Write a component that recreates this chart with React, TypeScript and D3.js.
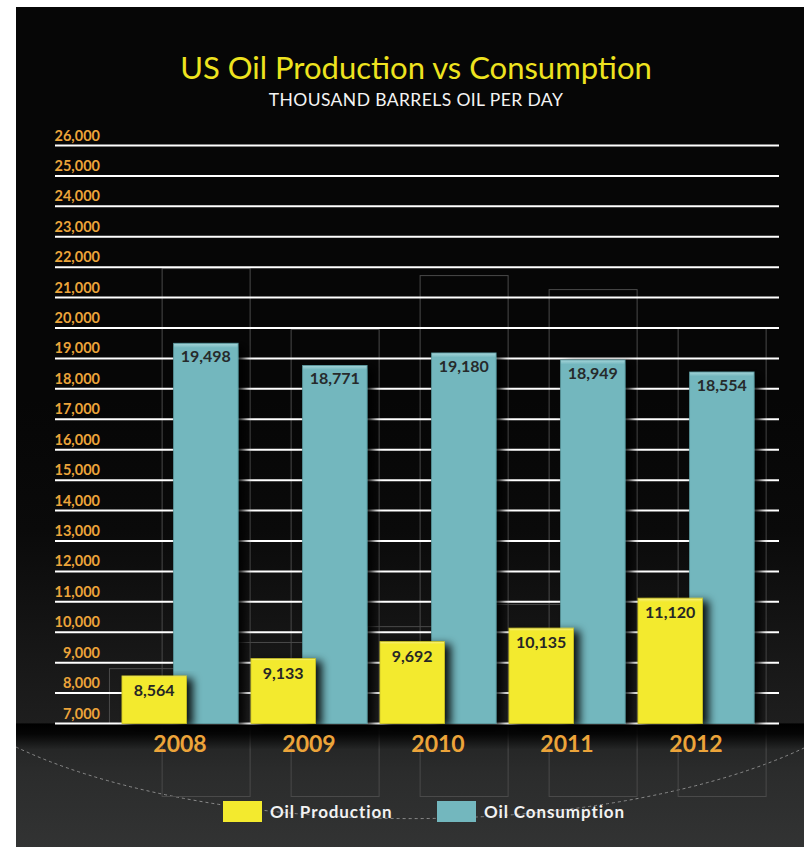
import React, { useEffect } from "react";
import * as d3 from "d3";

const years = ["2008", "2009", "2010", "2011", "2012"];
const production = [8564, 9133, 9692, 10135, 11120];
const consumption = [19498, 18771, 19180, 18949, 18554];
const yTickValues = d3.range(7000, 26001, 1000);
// decorative ghost frames behind the bars (in data units)
const ghostConsTop = [21970, 19970, 21740, 21280, 20000];
const ghostProdTop = [8820, 9680, 10200, 10930, 12010];
const seriesNames = ["Oil Production", "Oil Consumption"];

const W = 804;
const H = 847;
const YELLOW = "#f3ea2e";
const TEAL = "#73b7be";
const ORANGE = "#eca43a";
const FONT = "Lato, 'Open Sans', sans-serif";

export default function App() {
  useEffect(() => {
    document.body.style.margin = "0";
    document.body.style.background = "#ffffff";
  }, []);

  const y = d3.scaleLinear().domain([7000, 26000]).range([723.5, 145.5]);
  const x = d3
    .scaleBand<string>()
    .domain(years)
    .range([115.5, 760.5])
    .paddingInner(0.1)
    .paddingOuter(0.05);
  const bw = x.bandwidth();
  const barW = bw * 0.555;
  const base = y(7000);
  const fmt = d3.format(",");

  const arc = "M16,747 A500,185 0 0 0 804,748";

  return (
    <svg
      width={W}
      height={H}
      style={{ position: "absolute", left: 0, top: 0, display: "block" }}
      fontFamily={FONT}
    >
      <defs>
        <linearGradient id="plotBg" x1="0" y1="0" x2="0" y2="1">
          <stop offset="0" stopColor="#060606" />
          <stop offset="0.4" stopColor="#0a0a0a" />
          <stop offset="1" stopColor="#1e1e1e" />
        </linearGradient>
        <linearGradient id="bottomBg" x1="0" y1="0" x2="0" y2="1">
          <stop offset="0" stopColor="#202121" />
          <stop offset="0.4" stopColor="#2b2c2c" />
          <stop offset="1" stopColor="#323333" />
        </linearGradient>
        <linearGradient id="baseShadow" x1="0" y1="0" x2="0" y2="1">
          <stop offset="0" stopColor="#000" stopOpacity="1" />
          <stop offset="0.4" stopColor="#000" stopOpacity="0.85" />
          <stop offset="1" stopColor="#000" stopOpacity="0" />
        </linearGradient>
        <linearGradient id="yellowGrad" x1="0" y1="0" x2="0" y2="1">
          <stop offset="0" stopColor="#f7f088" />
          <stop offset="0.03" stopColor={YELLOW} />
          <stop offset="1" stopColor={YELLOW} />
        </linearGradient>
        <linearGradient id="tealGrad" x1="0" y1="0" x2="0" y2="1">
          <stop offset="0" stopColor="#a7d6da" />
          <stop offset="0.012" stopColor={TEAL} />
          <stop offset="1" stopColor={TEAL} />
        </linearGradient>
        <filter id="shadow" x="-30%" y="-10%" width="170%" height="130%">
          <feDropShadow dx="6" dy="3" stdDeviation="4" floodColor="#000" floodOpacity="0.9" />
        </filter>
      </defs>

      {/* backgrounds */}
      <rect x={0} y={0} width={W} height={H} fill="#ffffff" />
      <rect x={16} y={7} width={W - 16} height={H - 7} fill="#060606" />
      <rect x={16} y={400} width={W - 16} height={base - 400} fill="url(#plotBg)" />
      <rect x={16} y={base} width={W - 16} height={H - base} fill="url(#bottomBg)" />

      {/* dashed arc */}
      <path d={arc} fill="none" stroke="#9a9a9a" strokeWidth={1} strokeDasharray="3,3" opacity={0.85} />

      {/* ghost frames */}
      {years.map((yr, i) => {
        const x0 = x(yr)!;
        const cx = x0 + bw - barW - 12;
        const px = x0 - 13;
        const gt = y(ghostConsTop[i]);
        const pt = y(ghostProdTop[i]);
        return (
          <g key={"g" + yr} fill="none" stroke="#4a4a4a" strokeWidth={1}>
            <rect x={cx + 0.5} y={gt + 0.5} width={88} height={796 - gt} />
            <rect x={px + 0.5} y={pt + 0.5} width={89} height={base - pt} />
          </g>
        );
      })}

      {/* shadow under baseline */}
      <rect x={16} y={base} width={W - 16} height={26} fill="url(#baseShadow)" />

      {/* gridlines + y labels */}
      {yTickValues.map((v) => (
        <g key={v}>
          <line x1={55} x2={779} y1={y(v)} y2={y(v)} stroke="#ffffff" strokeWidth={2} />
          <text
            x={100}
            y={y(v) - 5}
            textAnchor="end"
            fill={ORANGE}
            fontSize={14.5}
            fontWeight={700}
          >
            {fmt(v)}
          </text>
        </g>
      ))}

      {/* bars */}
      {years.map((yr, i) => {
        const x0 = x(yr)!;
        const cx = x0 + bw - barW;
        const cTop = y(consumption[i]);
        const pTop = y(production[i]);
        return (
          <g key={"b" + yr}>
            <rect
              x={cx}
              y={cTop}
              width={barW}
              height={base - cTop}
              fill="url(#tealGrad)"
              stroke="#5a9aa0"
              strokeWidth={0.8}
              filter="url(#shadow)"
            />
            <text
              x={cx + barW / 2}
              y={cTop + 19}
              textAnchor="middle"
              fill="#262a2b"
              fontSize={16}
              fontWeight={700}
            >
              {fmt(consumption[i])}
            </text>
            <rect
              x={x0}
              y={pTop}
              width={barW}
              height={base - pTop}
              fill="url(#yellowGrad)"
              stroke="#c9c020"
              strokeWidth={0.8}
              filter="url(#shadow)"
            />
            <text
              x={x0 + barW / 2}
              y={pTop + 20}
              textAnchor="middle"
              fill="#262626"
              fontSize={16}
              fontWeight={700}
            >
              {fmt(production[i])}
            </text>
            <text
              x={x0 + bw / 2}
              y={752}
              textAnchor="middle"
              fill={ORANGE}
              fontSize={23}
              fontWeight={700}
            >
              {yr}
            </text>
          </g>
        );
      })}

      {/* legend */}
      <g>
        <rect x={223} y={801} width={39} height={21} fill={YELLOW} />
        <text x={270} y={818} fill="#f2f2f2" fontSize={17} fontWeight={700} letterSpacing={0.9}>
          {seriesNames[0]}
        </text>
        <rect x={437} y={801} width={39} height={21} fill={TEAL} />
        <text x={484} y={818} fill="#f2f2f2" fontSize={17} fontWeight={700} letterSpacing={0.9}>
          {seriesNames[1]}
        </text>
      </g>

      {/* titles */}
      <text x={416} y={79} textAnchor="middle" fill="#eee31f" fontSize={31}>
        US Oil Production vs Consumption
      </text>
      <text x={416} y={106} textAnchor="middle" fill="#f4f4f4" fontSize={17.5} letterSpacing={0.4}>
        THOUSAND BARRELS OIL PER DAY
      </text>
    </svg>
  );
}
